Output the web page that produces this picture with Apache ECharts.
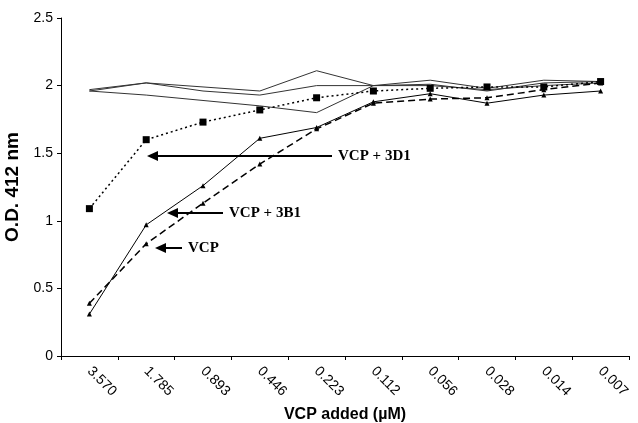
<!DOCTYPE html>
<html>
<head>
<meta charset="utf-8">
<script src="https://cdn.jsdelivr.net/npm/echarts@6/dist/echarts.min.js"></script>
<style>
  html, body { margin: 0; padding: 0; background: #fff; }
  #main { width: 638px; height: 423px; }
</style>
</head>
<body>
<div id="main"></div>
<script>
// concentrations of VCP (uM)
var categories = ['3.570', '1.785', '0.893', '0.446', '0.223', '0.112', '0.056', '0.028', '0.014', '0.007'];

// O.D. 412 nm readings
var vcp3D1 = [1.09, 1.60, 1.73, 1.82, 1.91, 1.96, 1.98, 1.99, 1.99, 2.03];
var vcp3B1 = [0.31, 0.97, 1.26, 1.61, 1.69, 1.88, 1.94, 1.87, 1.93, 1.96];
var vcpOnly = [0.39, 0.83, 1.13, 1.42, 1.68, 1.87, 1.90, 1.91, 1.97, 2.02];
// control curves (no marker)
var ctrlA = [1.97, 2.02, 1.99, 1.96, 2.11, 2.00, 2.04, 1.98, 2.04, 2.03];
var ctrlB = [1.96, 2.02, 1.96, 1.93, 2.00, 2.00, 2.01, 1.96, 2.02, 2.03];
var ctrlC = [1.96, 1.93, 1.89, 1.85, 1.80, 2.00, 2.00, 1.97, 2.00, 2.02];

var yTicks = [0, 0.5, 1, 1.5, 2, 2.5];

var chart = echarts.init(document.getElementById('main'));

function ctrl(name, data) {
  return {
    name: name,
    type: 'line',
    data: data,
    symbol: 'none',
    lineStyle: { color: '#333', width: 1 }
  };
}

// arrow annotation: tip at (x1,y), tail at x2
function arrow(x1, x2, y, label) {
  return [
    { type: 'line', shape: { x1: x1 + 8, y1: y, x2: x2, y2: y }, style: { stroke: '#000', lineWidth: 2 } },
    { type: 'polygon', shape: { points: [[x1, y], [x1 + 11, y - 5], [x1 + 11, y + 5]] }, style: { fill: '#000' } },
    { type: 'text', x: x2 + 6, y: y, style: { text: label, font: 'bold 15px "Liberation Serif", "Times New Roman", serif', fill: '#000', verticalAlign: 'middle' } }
  ];
}

var option = {
  backgroundColor: '#fff',
  animation: false,
  grid: { left: 61, right: 9, top: 18, bottom: 67, outerBoundsMode: 'none', containLabel: false },
  xAxis: {
    type: 'category',
    data: categories,
    boundaryGap: true,
    name: 'VCP added (\u00b5M)',
    nameLocation: 'middle',
    nameGap: 51,
    nameTextStyle: { fontFamily: 'Liberation Sans, Arial, sans-serif', fontWeight: 'bold', fontSize: 16, color: '#000' },
    axisLine: { lineStyle: { color: '#000', width: 1 } },
    axisTick: { show: true, length: 4, lineStyle: { color: '#000' } },
    axisLabel: { rotate: -45, fontFamily: 'Liberation Sans, Arial, sans-serif', fontSize: 14, color: '#000', margin: 13 },
    splitLine: { show: false }
  },
  yAxis: {
    type: 'value',
    min: yTicks[0],
    max: yTicks[yTicks.length - 1],
    interval: 0.5,
    name: 'O.D. 412 nm',
    nameLocation: 'middle',
    nameGap: 29,
    nameTextStyle: { fontFamily: 'Liberation Sans, Arial, sans-serif', fontWeight: 'bold', fontSize: 19, color: '#000' },
    axisLine: { show: true, lineStyle: { color: '#000', width: 1 } },
    axisTick: { show: true, length: 4, lineStyle: { color: '#000' } },
    axisLabel: { fontFamily: 'Liberation Sans, Arial, sans-serif', fontSize: 14, color: '#000', margin: 8 },
    splitLine: { show: false }
  },
  series: [
    ctrl('ctrlA', ctrlA),
    ctrl('ctrlB', ctrlB),
    ctrl('ctrlC', ctrlC),
    {
      name: 'VCP + 3D1',
      type: 'line',
      data: vcp3D1,
      symbol: 'rect',
      symbolSize: 7,
      itemStyle: { color: '#000' },
      lineStyle: { color: '#000', width: 1.5, type: [2, 3] }
    },
    {
      name: 'VCP + 3B1',
      type: 'line',
      data: vcp3B1,
      symbol: 'triangle',
      symbolSize: 5,
      itemStyle: { color: '#000' },
      lineStyle: { color: '#000', width: 1 }
    },
    {
      name: 'VCP',
      type: 'line',
      data: vcpOnly,
      symbol: 'triangle',
      symbolSize: 5,
      itemStyle: { color: '#000' },
      lineStyle: { color: '#000', width: 1.5, type: [7, 4] }
    }
  ],
  graphic: [].concat(
    arrow(147, 332, 156, 'VCP + 3D1'),
    arrow(167, 223, 213, 'VCP + 3B1'),
    arrow(155, 182, 248, 'VCP')
  )
};

chart.setOption(option);
</script>
</body>
</html>
